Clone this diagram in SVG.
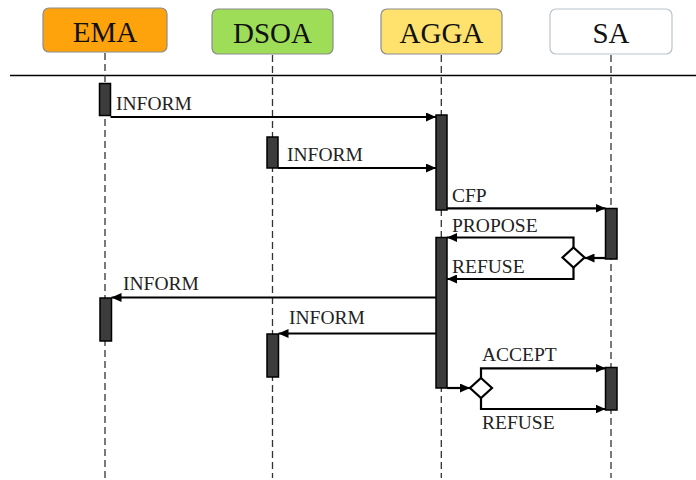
<svg xmlns="http://www.w3.org/2000/svg" width="696" height="480" viewBox="0 0 696 480">
<style>
.box{stroke:#8c8c8c;stroke-width:1.2}
.hdr{font-family:"Liberation Serif","Times New Roman",serif;font-size:29px;fill:#111;text-anchor:middle}
.lbl{font-family:"Liberation Serif","Times New Roman",serif;font-size:19.5px;fill:#222}
.life{stroke:#333;stroke-width:1.3;stroke-dasharray:7,4;fill:none}
.act{fill:#3c3c3c;stroke:#000;stroke-width:1.5}
.msg{stroke:#000;stroke-width:2.2;fill:none}
.dia{fill:#fff;stroke:#000;stroke-width:2.2}
</style>
<defs>
<marker id="ah" markerUnits="userSpaceOnUse" markerWidth="10" markerHeight="9" refX="10" refY="4.5" orient="auto">
<path d="M0,0 L10,4.5 L0,9 z" fill="#000"/>
</marker>
</defs>
<rect width="696" height="480" fill="#fff"/>
<line x1="10" y1="75.5" x2="696" y2="75.5" stroke="#000" stroke-width="1.6"/>
<g id="lifelines">
<line class="life" x1="105" y1="53" x2="105" y2="478"/>
<line class="life" x1="272.5" y1="55" x2="272.5" y2="478"/>
<line class="life" x1="441.3" y1="55" x2="441.3" y2="478"/>
<line class="life" x1="611" y1="55" x2="611" y2="478"/>
</g>
<g id="EMA">
<rect class="box" x="43" y="8" width="124" height="44" rx="6" fill="#FFA30C"/>
<text class="hdr" x="105" y="41.5">EMA</text>
</g>
<g id="DSOA">
<rect class="box" x="212" y="9" width="121" height="45" rx="6" fill="#9EDD58"/>
<text class="hdr" x="272.5" y="42.5">DSOA</text>
</g>
<g id="AGGA">
<rect class="box" x="381" y="9" width="121" height="45" rx="6" fill="#FFE26E"/>
<text class="hdr" x="441.5" y="42.5">AGGA</text>
</g>
<g id="SA">
<rect x="550" y="9" width="122" height="45" rx="6" fill="#fff" stroke="#b9c3cc" stroke-width="1.2"/>
<text class="hdr" x="611" y="42.5">SA</text>
</g>
<g id="activations">
<rect class="act" x="99.5" y="83.5" width="11" height="32"/>
<rect class="act" x="267" y="137" width="11" height="31"/>
<rect class="act" x="436" y="115" width="11" height="95"/>
<rect class="act" x="605.5" y="208.5" width="11.5" height="50.5"/>
<rect class="act" x="436" y="237.5" width="11" height="150.5"/>
<rect class="act" x="100" y="298" width="11.5" height="43"/>
<rect class="act" x="267" y="334" width="11.5" height="43"/>
<rect class="act" x="605.5" y="367.5" width="11.5" height="42.5"/>
</g>
<g id="connectors">
<line class="msg" x1="110.5" y1="117" x2="436" y2="117" marker-end="url(#ah)"/>
<line class="msg" x1="278" y1="168" x2="436" y2="168" marker-end="url(#ah)"/>
<line class="msg" x1="447" y1="208.3" x2="605.5" y2="208.3" marker-end="url(#ah)"/>
<line class="msg" x1="605.5" y1="258" x2="584.5" y2="258" marker-end="url(#ah)"/>
<polyline class="msg" points="573.5,247.5 573.5,237.5 447,237.5" marker-end="url(#ah)"/>
<polyline class="msg" points="573.5,267.5 573.5,279 447,279" marker-end="url(#ah)"/>
<polygon class="dia" points="573.5,247.5 584.5,257.5 573.5,267.5 562.5,257.5"/>
<line class="msg" x1="436" y1="297.5" x2="111.5" y2="297.5" marker-end="url(#ah)"/>
<line class="msg" x1="436" y1="333.5" x2="278.5" y2="333.5" marker-end="url(#ah)"/>
<line class="msg" x1="447" y1="388" x2="470" y2="388" marker-end="url(#ah)"/>
<polyline class="msg" points="481,378 481,368.3 605.5,368.3" marker-end="url(#ah)"/>
<polyline class="msg" points="481,398 481,409 605.5,409" marker-end="url(#ah)"/>
<polygon class="dia" points="481,378 492,388 481,398 470,388"/>
</g>
<g id="labels">
<text class="lbl" x="116" y="110">INFORM</text>
<text class="lbl" x="287" y="161">INFORM</text>
<text class="lbl" x="452" y="201.5">CFP</text>
<text class="lbl" x="452" y="231.5">PROPOSE</text>
<text class="lbl" x="452" y="273">REFUSE</text>
<text class="lbl" x="123" y="290">INFORM</text>
<text class="lbl" x="289" y="324">INFORM</text>
<text class="lbl" x="482" y="360.5">ACCEPT</text>
<text class="lbl" x="482" y="429">REFUSE</text>
</g>
</svg>
